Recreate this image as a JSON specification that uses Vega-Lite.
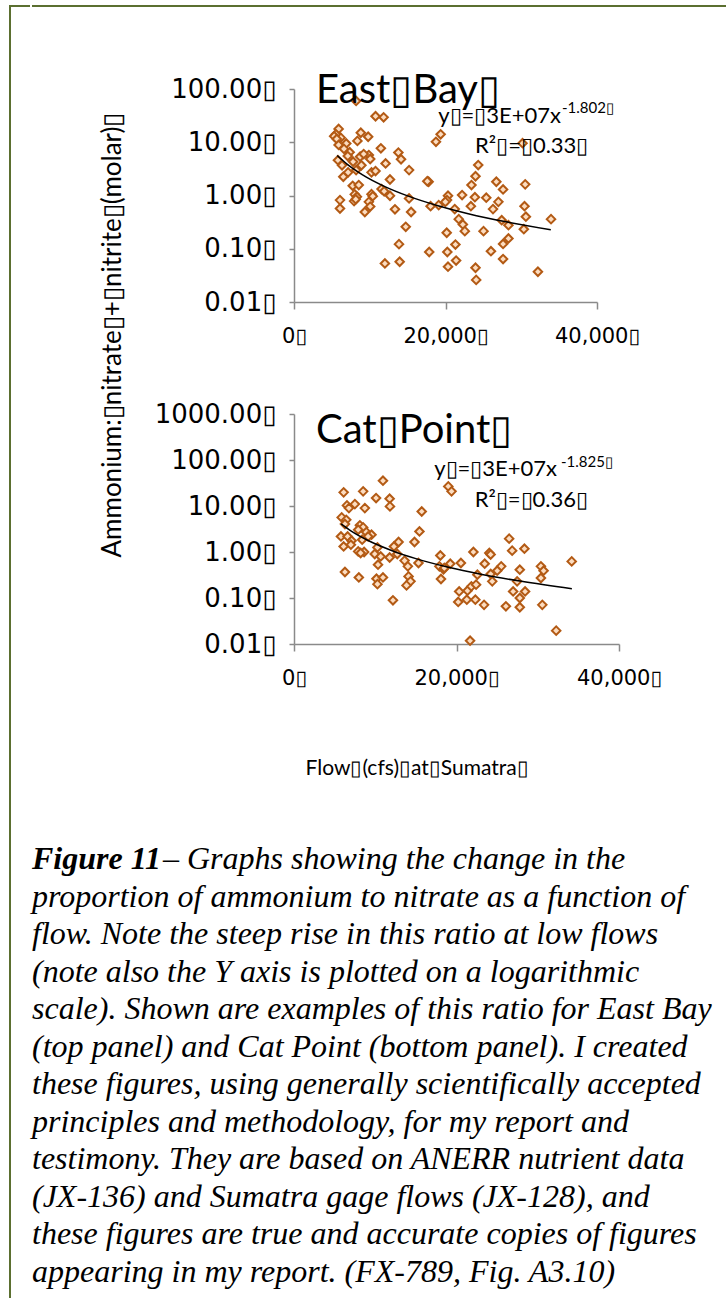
{
  "$schema": "https://vega.github.io/schema/vega-lite/v6.json",
  "background": "white",
  "padding": {"left": 9, "top": 5, "right": 0, "bottom": 0},
  "config": {
    "view": {"stroke": null},
    "font": "Lato",
    "axis": {
      "grid": false,
      "domainColor": "#8a8a8a",
      "tickColor": "#8a8a8a",
      "domainWidth": 1.5,
      "tickWidth": 1.5,
      "labelColor": "#000000",
      "labelFont": "DejaVu Sans",
      "titleFont": "Lato",
      "titleFontWeight": "normal",
      "titleColor": "#000000"
    }
  },
  "datasets": {
    "eastbay": [
      {"flow": 8200, "ratio": 59.7}, {"flow": 10765, "ratio": 30.8}, {"flow": 11830, "ratio": 29.4},
      {"flow": 5890, "ratio": 17.8}, {"flow": 6160, "ratio": 12.2}, {"flow": 5540, "ratio": 14.1},
      {"flow": 5300, "ratio": 13.0}, {"flow": 5650, "ratio": 11.5}, {"flow": 6900, "ratio": 9.5},
      {"flow": 8820, "ratio": 15.1}, {"flow": 9790, "ratio": 12.7}, {"flow": 8370, "ratio": 10.6},
      {"flow": 11470, "ratio": 7.7}, {"flow": 5890, "ratio": 8.9}, {"flow": 6600, "ratio": 7.5},
      {"flow": 7350, "ratio": 6.5}, {"flow": 8730, "ratio": 5.35}, {"flow": 9880, "ratio": 5.75},
      {"flow": 10060, "ratio": 4.84}, {"flow": 13780, "ratio": 6.4}, {"flow": 14130, "ratio": 4.8},
      {"flow": 5800, "ratio": 4.6}, {"flow": 6340, "ratio": 3.7}, {"flow": 7800, "ratio": 4.3},
      {"flow": 8900, "ratio": 3.7}, {"flow": 8200, "ratio": 3.0}, {"flow": 7140, "ratio": 2.72},
      {"flow": 6510, "ratio": 2.25}, {"flow": 7100, "ratio": 5.5}, {"flow": 9200, "ratio": 6.0},
      {"flow": 10230, "ratio": 2.72}, {"flow": 10760, "ratio": 2.88}, {"flow": 12090, "ratio": 4.0},
      {"flow": 12670, "ratio": 2.0}, {"flow": 15190, "ratio": 3.0}, {"flow": 17770, "ratio": 1.81},
      {"flow": 17600, "ratio": 1.85}, {"flow": 7750, "ratio": 1.52}, {"flow": 8550, "ratio": 1.57},
      {"flow": 8020, "ratio": 1.05}, {"flow": 8300, "ratio": 0.95}, {"flow": 10230, "ratio": 1.06},
      {"flow": 10400, "ratio": 0.97}, {"flow": 11560, "ratio": 1.32}, {"flow": 11900, "ratio": 1.2},
      {"flow": 12670, "ratio": 0.99}, {"flow": 6070, "ratio": 0.82}, {"flow": 6070, "ratio": 0.57},
      {"flow": 7930, "ratio": 0.785}, {"flow": 8150, "ratio": 0.85}, {"flow": 9880, "ratio": 0.76},
      {"flow": 9350, "ratio": 0.49}, {"flow": 10060, "ratio": 0.62}, {"flow": 13330, "ratio": 0.55},
      {"flow": 15190, "ratio": 0.88}, {"flow": 15460, "ratio": 0.49}, {"flow": 14750, "ratio": 0.258},
      {"flow": 13860, "ratio": 0.122}, {"flow": 13950, "ratio": 0.057}, {"flow": 12000, "ratio": 0.053},
      {"flow": 17850, "ratio": 0.087}, {"flow": 18030, "ratio": 0.63}, {"flow": 19100, "ratio": 0.66},
      {"flow": 20330, "ratio": 0.99}, {"flow": 20200, "ratio": 0.82}, {"flow": 19360, "ratio": 14.1},
      {"flow": 18740, "ratio": 10.2}, {"flow": 20160, "ratio": 0.2}, {"flow": 20240, "ratio": 0.087},
      {"flow": 20330, "ratio": 0.046},
      {"flow": 30170, "ratio": 9.6}, {"flow": 24320, "ratio": 3.73}, {"flow": 23960, "ratio": 2.3},
      {"flow": 23430, "ratio": 1.57}, {"flow": 26710, "ratio": 1.81}, {"flow": 27600, "ratio": 1.3},
      {"flow": 30520, "ratio": 1.62}, {"flow": 19980, "ratio": 0.76}, {"flow": 22190, "ratio": 1.02},
      {"flow": 23880, "ratio": 0.93}, {"flow": 25380, "ratio": 0.91}, {"flow": 23350, "ratio": 0.63},
      {"flow": 21220, "ratio": 0.555}, {"flow": 26980, "ratio": 0.76}, {"flow": 26270, "ratio": 0.555},
      {"flow": 30430, "ratio": 0.63}, {"flow": 30610, "ratio": 0.4}, {"flow": 33930, "ratio": 0.36},
      {"flow": 21750, "ratio": 0.36}, {"flow": 22290, "ratio": 0.286}, {"flow": 22550, "ratio": 0.214},
      {"flow": 27420, "ratio": 0.344}, {"flow": 28310, "ratio": 0.277}, {"flow": 30340, "ratio": 0.233},
      {"flow": 25020, "ratio": 0.214}, {"flow": 21310, "ratio": 0.12}, {"flow": 28310, "ratio": 0.156},
      {"flow": 27600, "ratio": 0.123}, {"flow": 26000, "ratio": 0.09}, {"flow": 21400, "ratio": 0.06},
      {"flow": 23960, "ratio": 0.044}, {"flow": 27600, "ratio": 0.064}, {"flow": 24050, "ratio": 0.026},
      {"flow": 32200, "ratio": 0.037}
    ],
    "catpoint": [
      {"flow": 10950, "ratio": 35.5}, {"flow": 6110, "ratio": 19.8}, {"flow": 8510, "ratio": 20.8},
      {"flow": 10100, "ratio": 14.9}, {"flow": 11770, "ratio": 14.4}, {"flow": 11810, "ratio": 9.8},
      {"flow": 7490, "ratio": 11.0}, {"flow": 6520, "ratio": 10.3}, {"flow": 6760, "ratio": 9.0},
      {"flow": 8720, "ratio": 9.0}, {"flow": 15720, "ratio": 7.6}, {"flow": 5870, "ratio": 5.65},
      {"flow": 6430, "ratio": 5.0}, {"flow": 6270, "ratio": 4.06}, {"flow": 8110, "ratio": 3.8},
      {"flow": 8510, "ratio": 3.43}, {"flow": 7900, "ratio": 3.05}, {"flow": 8900, "ratio": 2.7},
      {"flow": 9540, "ratio": 2.38}, {"flow": 9120, "ratio": 2.18}, {"flow": 5780, "ratio": 2.18},
      {"flow": 6600, "ratio": 2.18}, {"flow": 7090, "ratio": 1.76}, {"flow": 6110, "ratio": 1.32},
      {"flow": 7000, "ratio": 1.44}, {"flow": 8390, "ratio": 1.85}, {"flow": 15440, "ratio": 2.8},
      {"flow": 14830, "ratio": 1.65}, {"flow": 12870, "ratio": 1.65}, {"flow": 12300, "ratio": 1.32},
      {"flow": 10270, "ratio": 1.26}, {"flow": 7900, "ratio": 1.03}, {"flow": 8630, "ratio": 1.0},
      {"flow": 8200, "ratio": 0.95}, {"flow": 9940, "ratio": 0.905}, {"flow": 10670, "ratio": 0.8},
      {"flow": 11770, "ratio": 0.76}, {"flow": 12710, "ratio": 0.905}, {"flow": 13610, "ratio": 0.65},
      {"flow": 10340, "ratio": 0.53}, {"flow": 14010, "ratio": 0.487}, {"flow": 15320, "ratio": 0.577},
      {"flow": 18010, "ratio": 0.84}, {"flow": 17890, "ratio": 0.487}, {"flow": 18400, "ratio": 0.42},
      {"flow": 18090, "ratio": 0.259}, {"flow": 6270, "ratio": 0.367}, {"flow": 7980, "ratio": 0.28},
      {"flow": 10150, "ratio": 0.263}, {"flow": 10950, "ratio": 0.28}, {"flow": 10270, "ratio": 0.2},
      {"flow": 14100, "ratio": 0.295}, {"flow": 14340, "ratio": 0.23}, {"flow": 13850, "ratio": 0.188},
      {"flow": 12180, "ratio": 0.089}, {"flow": 18990, "ratio": 26.7}, {"flow": 19390, "ratio": 20.8},
      {"flow": 26480, "ratio": 1.95}, {"flow": 26850, "ratio": 1.07}, {"flow": 28360, "ratio": 1.18},
      {"flow": 22080, "ratio": 1.0}, {"flow": 24040, "ratio": 0.95}, {"flow": 24200, "ratio": 0.88},
      {"flow": 34180, "ratio": 0.625}, {"flow": 20540, "ratio": 0.577}, {"flow": 19230, "ratio": 0.557},
      {"flow": 23470, "ratio": 0.557}, {"flow": 30390, "ratio": 0.487}, {"flow": 30720, "ratio": 0.392},
      {"flow": 30390, "ratio": 0.272}, {"flow": 27790, "ratio": 0.412}, {"flow": 25500, "ratio": 0.487},
      {"flow": 25010, "ratio": 0.392}, {"flow": 22570, "ratio": 0.321}, {"flow": 24210, "ratio": 0.333},
      {"flow": 24400, "ratio": 0.23}, {"flow": 27460, "ratio": 0.23}, {"flow": 18500, "ratio": 0.45},
      {"flow": 20330, "ratio": 0.139}, {"flow": 21350, "ratio": 0.144}, {"flow": 21830, "ratio": 0.179},
      {"flow": 22410, "ratio": 0.195}, {"flow": 26970, "ratio": 0.139}, {"flow": 28440, "ratio": 0.139},
      {"flow": 27790, "ratio": 0.1}, {"flow": 20210, "ratio": 0.082}, {"flow": 21270, "ratio": 0.092},
      {"flow": 22320, "ratio": 0.092}, {"flow": 23390, "ratio": 0.071}, {"flow": 26080, "ratio": 0.066},
      {"flow": 27790, "ratio": 0.063}, {"flow": 30560, "ratio": 0.071}, {"flow": 32270, "ratio": 0.0195},
      {"flow": 21670, "ratio": 0.0118}
    ],
    "eb_trend": [
      {"flow": 5700, "ratio": 5.64}, {"flow": 7000, "ratio": 3.89}, {"flow": 9000, "ratio": 2.47},
      {"flow": 12000, "ratio": 1.47}, {"flow": 15000, "ratio": 0.984}, {"flow": 19000, "ratio": 0.643},
      {"flow": 23000, "ratio": 0.456}, {"flow": 28000, "ratio": 0.32}, {"flow": 33900, "ratio": 0.227}
    ],
    "cp_trend": [
      {"flow": 5800, "ratio": 4.07}, {"flow": 7000, "ratio": 2.88}, {"flow": 9000, "ratio": 1.82},
      {"flow": 12000, "ratio": 1.08}, {"flow": 15000, "ratio": 0.717}, {"flow": 19000, "ratio": 0.466},
      {"flow": 23000, "ratio": 0.329}, {"flow": 28000, "ratio": 0.23}, {"flow": 34200, "ratio": 0.159}
    ],
    "caption": [
      {"line": 1, "seg": "head", "text": "Figure 11"},
      {"line": 1, "seg": "lead", "text": "– Graphs showing the change in the"},
      {"line": 2, "seg": "body", "text": "proportion of ammonium to nitrate as a function of"},
      {"line": 3, "seg": "body", "text": "flow. Note the steep rise in this ratio at low flows"},
      {"line": 4, "seg": "body", "text": "(note also the Y axis is plotted on a logarithmic"},
      {"line": 5, "seg": "body", "text": "scale). Shown are examples of this ratio for East Bay"},
      {"line": 6, "seg": "body", "text": "(top panel) and Cat Point (bottom panel). I created"},
      {"line": 7, "seg": "body", "text": "these figures, using generally scientifically accepted"},
      {"line": 8, "seg": "body", "text": "principles and methodology, for my report and"},
      {"line": 9, "seg": "body", "text": "testimony.  They are based on ANERR nutrient data"},
      {"line": 10, "seg": "body", "text": "(JX-136) and Sumatra gage flows (JX-128), and"},
      {"line": 11, "seg": "body", "text": "these figures are true and accurate copies of figures"},
      {"line": 12, "seg": "body", "text": "appearing in my report. (FX-789, Fig. A3.10)"}
    ]
  },
  "hconcat": [
    {
      "width": 20,
      "height": 1293,
      "view": {"stroke": "#5b6f30", "strokeWidth": 2, "strokeDash": [20, 1313, 1293]},
      "data": {"values": []},
      "mark": "point",
      "encoding": {}
    },
    {
      "vconcat": [
        {
          "vconcat": [
            {
              "width": 697,
              "height": 1,
              "view": {"stroke": "#5b6f30", "strokeWidth": 2, "strokeDash": [697, 3000]},
              "data": {"values": []},
              "mark": "point",
              "encoding": {}
            },
            {
              "hconcat": [
                {
                  "width": 162,
                  "height": 492,
                  "data": {"values": [{}]},
                  "mark": {"type": "text", "angle": 270, "fontSize": 26, "font": "Lato", "color": "#000000"},
                  "encoding": {"text": {"value": "Ammonium:▯nitrate▯+▯nitrite▯(molar)▯"}}
                },
                {
                  "vconcat": [
                    {
                      "width": 303,
                      "height": 213,
                      "layer": [
                        {
                          "data": {"name": "eastbay"},
                          "mark": {"type": "point", "shape": "diamond", "filled": true, "fill": "#fcdcbf", "stroke": "#b35a14", "strokeWidth": 2, "size": 72, "opacity": 1},
                          "encoding": {
                            "x": {"field": "flow", "type": "quantitative",
                              "scale": {"domain": [0, 40000], "nice": false, "zero": false},
                              "axis": {"title": null, "values": [0, 20000, 40000], "labelExpr": "format(datum.value, ',') + '▯'", "tickSize": 7, "labelPadding": 16, "labelFontSize": 21, "labelFlush": false}},
                            "y": {"field": "ratio", "type": "quantitative",
                              "scale": {"type": "log", "domain": [0.01, 100], "nice": false},
                              "axis": {"title": null, "values": [0.01, 0.1, 1, 10, 100], "labelExpr": "format(datum.value, '.2f') + '▯'", "tickSize": 5, "labelPadding": 13, "labelFontSize": 26}}
                          }
                        },
                        {
                          "data": {"name": "eb_trend"},
                          "mark": {"type": "line", "color": "#000000", "strokeWidth": 1.5, "interpolate": "monotone"},
                          "encoding": {"x": {"field": "flow", "type": "quantitative"}, "y": {"field": "ratio", "type": "quantitative"}}
                        },
                        {
                          "data": {"values": [{}]},
                          "mark": {"type": "text", "fontSize": 40, "align": "left", "baseline": "alphabetic", "font": "Lato", "color": "#000000"},
                          "encoding": {"x": {"datum": 2904}, "y": {"datum": 54.6}, "text": {"value": "East▯Bay▯"}}
                        },
                        {
                          "data": {"values": [{}]},
                          "mark": {"type": "text", "fontSize": 22, "align": "right", "baseline": "alphabetic", "font": "Lato", "color": "#000000"},
                          "encoding": {"x": {"datum": 35248}, "y": {"datum": 23.0}, "text": {"value": "y▯=▯3E+07x"}}
                        },
                        {
                          "data": {"values": [{}]},
                          "mark": {"type": "text", "fontSize": 15, "align": "left", "baseline": "alphabetic", "font": "Lato", "color": "#000000"},
                          "encoding": {"x": {"datum": 35380}, "y": {"datum": 35.4}, "text": {"value": "-1.802▯"}}
                        },
                        {
                          "data": {"values": [{}]},
                          "mark": {"type": "text", "fontSize": 22, "align": "left", "baseline": "alphabetic", "font": "Lato", "color": "#000000"},
                          "encoding": {"x": {"datum": 23894}, "y": {"datum": 6.28}, "text": {"value": "R²▯=▯0.33▯"}}
                        }
                      ]
                    },
                    {
                      "width": 325,
                      "height": 230,
                      "layer": [
                        {
                          "data": {"name": "catpoint"},
                          "mark": {"type": "point", "shape": "diamond", "filled": true, "fill": "#fcdcbf", "stroke": "#b35a14", "strokeWidth": 2, "size": 72, "opacity": 1},
                          "encoding": {
                            "x": {"field": "flow", "type": "quantitative",
                              "scale": {"domain": [0, 40000], "nice": false, "zero": false},
                              "axis": {"title": "Flow▯(cfs)▯at▯Sumatra▯", "values": [0, 20000, 40000], "labelExpr": "format(datum.value, ',') + '▯'", "tickSize": 7, "labelPadding": 16, "labelFontSize": 21, "labelFlush": false,
                                "titleFontSize": 21, "titleX": 11, "titleY": 130, "titleAlign": "left", "titleBaseline": "alphabetic"}},
                            "y": {"field": "ratio", "type": "quantitative",
                              "scale": {"type": "log", "domain": [0.01, 1000], "nice": false},
                              "axis": {"title": null, "values": [0.01, 0.1, 1, 10, 100, 1000], "labelExpr": "format(datum.value, '.2f') + '▯'", "tickSize": 5, "labelPadding": 13, "labelFontSize": 26}}
                          }
                        },
                        {
                          "data": {"name": "cp_trend"},
                          "mark": {"type": "line", "color": "#000000", "strokeWidth": 1.5, "interpolate": "monotone"},
                          "encoding": {"x": {"field": "flow", "type": "quantitative"}, "y": {"field": "ratio", "type": "quantitative"}}
                        },
                        {
                          "data": {"values": [{}]},
                          "mark": {"type": "text", "fontSize": 40, "align": "left", "baseline": "alphabetic", "font": "Lato", "color": "#000000"},
                          "encoding": {"x": {"datum": 2708}, "y": {"datum": 234}, "text": {"value": "Cat▯Point▯"}}
                        },
                        {
                          "data": {"values": [{}]},
                          "mark": {"type": "text", "fontSize": 22, "align": "right", "baseline": "alphabetic", "font": "Lato", "color": "#000000"},
                          "encoding": {"x": {"datum": 32369}, "y": {"datum": 44.9}, "text": {"value": "y▯=▯3E+07x"}}
                        },
                        {
                          "data": {"values": [{}]},
                          "mark": {"type": "text", "fontSize": 15, "align": "left", "baseline": "alphabetic", "font": "Lato", "color": "#000000"},
                          "encoding": {"x": {"datum": 32862}, "y": {"datum": 71.5}, "text": {"value": "-1.825▯"}}
                        },
                        {
                          "data": {"values": [{}]},
                          "mark": {"type": "text", "fontSize": 22, "align": "left", "baseline": "alphabetic", "font": "Lato", "color": "#000000"},
                          "encoding": {"x": {"datum": 22240}, "y": {"datum": 9.5}, "text": {"value": "R²▯=▯0.36▯"}}
                        }
                      ]
                    }
                  ],
                  "spacing": 112,
                  "bounds": "flush"
                }
              ],
              "spacing": 100,
              "bounds": "flush"
            }
          ],
          "spacing": 62
        },
        {
          "width": 690,
          "height": 412.5,
          "data": {"name": "caption"},
          "layer": [
            {
              "transform": [{"filter": "datum.seg == 'body'"}],
              "mark": {"type": "text", "align": "left", "baseline": "alphabetic", "font": "Liberation Serif", "fontStyle": "italic", "fontSize": 32, "color": "#000000"},
              "encoding": {
                "x": {"datum": 0, "scale": {"domain": [0, 1]}, "axis": null},
                "y": {"field": "line", "type": "quantitative", "scale": {"domain": [1, 12], "reverse": true, "nice": false, "zero": false}, "axis": null},
                "text": {"field": "text"}
              }
            },
            {
              "transform": [{"filter": "datum.seg == 'head'"}],
              "mark": {"type": "text", "align": "left", "baseline": "alphabetic", "font": "Liberation Serif", "fontStyle": "italic", "fontWeight": "bold", "fontSize": 32, "color": "#000000"},
              "encoding": {
                "x": {"datum": 0},
                "y": {"field": "line", "type": "quantitative"},
                "text": {"field": "text"}
              }
            },
            {
              "transform": [{"filter": "datum.seg == 'lead'"}],
              "mark": {"type": "text", "align": "left", "baseline": "alphabetic", "font": "Liberation Serif", "fontStyle": "italic", "fontSize": 32, "color": "#000000", "dx": 131},
              "encoding": {
                "x": {"datum": 0},
                "y": {"field": "line", "type": "quantitative"},
                "text": {"field": "text"}
              }
            }
          ]
        }
      ],
      "spacing": 65
    }
  ],
  "spacing": 0
}
